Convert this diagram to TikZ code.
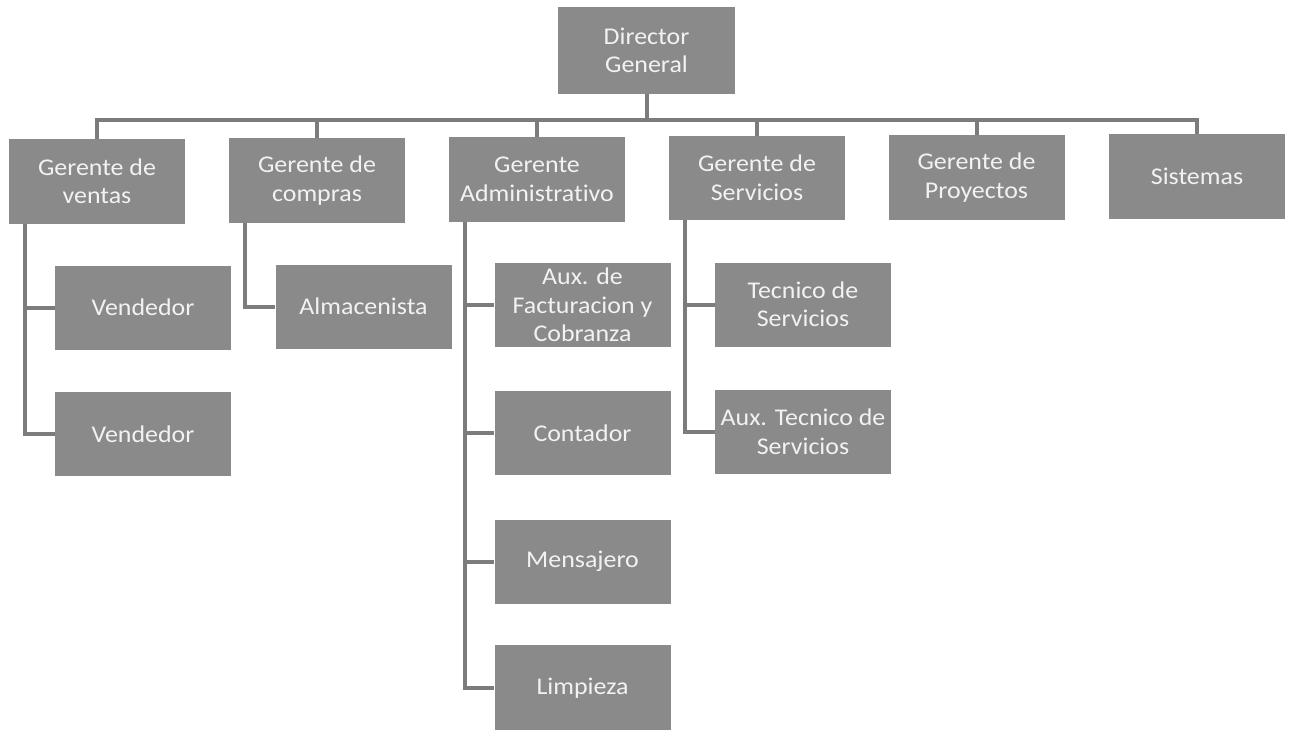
\documentclass[tikz,border=0pt]{standalone}
\usepackage{fontspec}
\setmainfont{Carlito}[FakeStretch=1.08,Ligatures=NoCommon]
\definecolor{boxfill}{HTML}{8A8A8A}
\definecolor{linecol}{HTML}{7C7C7C}
\definecolor{txt}{HTML}{F2F2F2}
\begin{document}
\begin{tikzpicture}[x=1pt,y=-1pt,
  box/.style={rectangle, fill=boxfill, draw=none, text=txt, align=center,
    minimum width=176pt, minimum height=84pt, inner sep=0pt,
    font=\fontsize{24}{28.5}\selectfont},
  conn/.style={draw=linecol, line width=4pt}]
\fill[white] (0,0) rectangle (1292,730);
\useasboundingbox (0,0) rectangle (1292,730);
\node[box, minimum width=177pt, minimum height=87pt] (dir) at (646.5,50.5) {Director\\General};
\node[box] (ven) at (97,181.5) {Gerente de\\ventas};
\node[box] (com) at (317,180.5) {Gerente de\\compras};
\node[box] (adm) at (537,179.5) {Gerente\\Administrativo};
\node[box] (ser) at (757,178) {Gerente de\\Servicios};
\node[box] (pro) at (976.5,177.5) {Gerente de\\Proyectos};
\node[box] (sis) at (1197,176.5) {Sistemas};
\node[box] (v1) at (143,307.5) {Vendedor};
\node[box] (v2) at (143,434) {Vendedor};
\node[box] (alm) at (363.5,306.5) {Almacenista};
\node[box] (fac) at (582.5,305) {Aux. de\\Facturacion y\\Cobranza};
\node[box] (con) at (582.5,433) {Contador};
\node[box] (men) at (582.5,561.5) {Mensajero};
\node[box, minimum height=86pt] (lim) at (582.5,688) {Limpieza};
\node[box] (tec) at (803,304.5) {Tecnico de\\Servicios};
\node[box] (atec) at (803,432) {Aux. Tecnico de\\Servicios};
\coordinate (bus) at (646.5,120);
\draw[conn] (dir.south) -- (bus);
\foreach \n in {ven,com,adm,ser,pro,sis}{
  \draw[conn] (bus) -| (\n.north);
}
\draw[conn] ([xshift=16pt]ven.south west) |- (v1.west);
\draw[conn] ([xshift=16pt]ven.south west) |- (v2.west);
\draw[conn] ([xshift=16pt]com.south west) |- (alm.west);
\foreach \n in {fac,con,men,lim}{
  \draw[conn] ([xshift=16pt]adm.south west) |- (\n.west);
}
\foreach \n in {tec,atec}{
  \draw[conn] ([xshift=16pt]ser.south west) |- (\n.west);
}
\end{tikzpicture}
\end{document}
